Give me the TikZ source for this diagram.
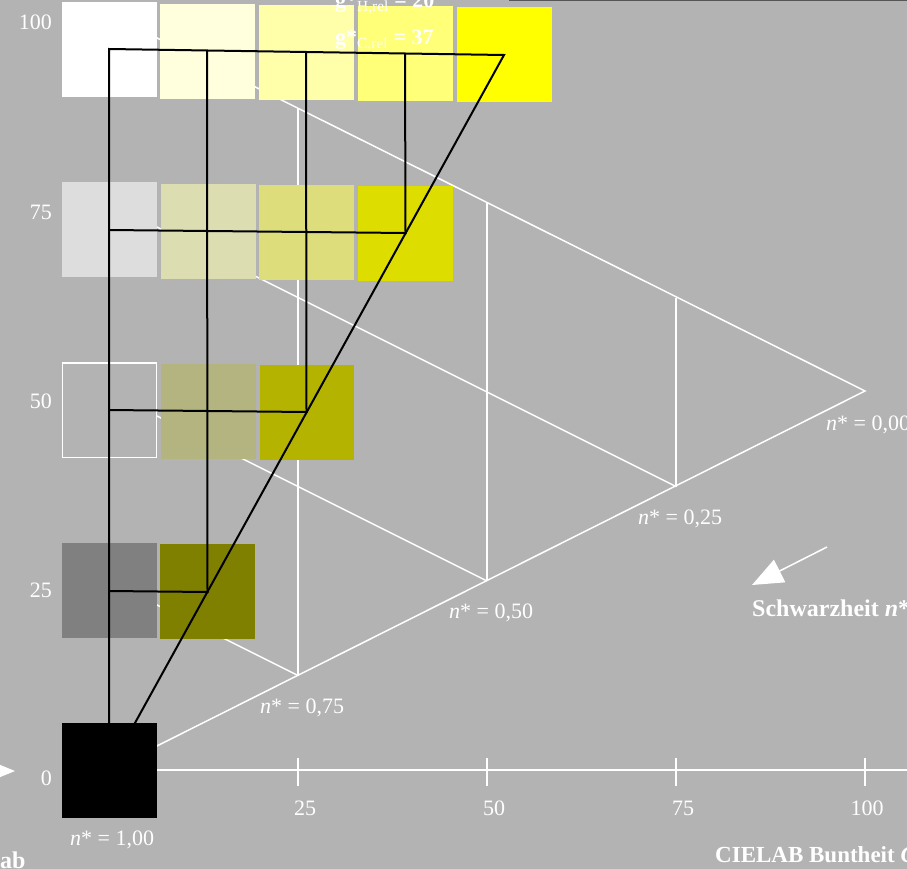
\documentclass[tikz,border=0pt]{standalone}
\usepackage{fontspec}
\setmainfont{Liberation Serif}
\usetikzlibrary{arrows.meta}
\definecolor{bg}{RGB}{179,179,179}
\definecolor{ya}{RGB}{255,255,221}
\definecolor{yb}{RGB}{255,255,170}
\definecolor{yc}{RGB}{255,255,120}
\definecolor{yd}{RGB}{255,255,0}
\definecolor{ga}{RGB}{221,221,221}
\definecolor{gb}{RGB}{221,221,178}
\definecolor{gc}{RGB}{221,221,124}
\definecolor{gd}{RGB}{221,221,0}
\definecolor{ma}{RGB}{180,180,128}
\definecolor{mb}{RGB}{180,180,0}
\definecolor{da}{RGB}{128,128,128}
\definecolor{db}{RGB}{128,128,0}
\definecolor{topline}{RGB}{85,85,85}
\begin{document}
\begin{tikzpicture}[x=1pt,y=-1pt,
  wl/.style={white,line width=1.5pt},
  bl/.style={black,line width=2pt,line join=miter},
  lab/.style={text=white,font=\fontsize{22}{26}\selectfont,inner sep=0pt},
  blab/.style={text=white,font=\fontsize{24}{28}\selectfont\bfseries,inner sep=0pt}]
\useasboundingbox (0,0) rectangle (907,869);
\clip (0,0) rectangle (907,869);
\fill[bg] (0,0) rectangle (907,869);
\draw[topline,line width=1.5pt] (509,0.5) -- (907,0.5);
% triangle grid
\coordinate (TW) at (109,14);
\coordinate (TK) at (109,770);
\coordinate (TA) at (865,391);
\draw[wl] (TW) -- (TA) -- (TK) -- cycle;
\draw[wl] (109,203) -- (676,486.5);
\draw[wl] (109,392) -- (487,581);
\draw[wl] (109,581) -- (298,675.5);
\draw[wl] (298,108.5) -- (298,675.5);
\draw[wl] (487,203) -- (487,581);
\draw[wl] (676,297.5) -- (676,486.5);
% axis
\draw[wl] (TK) -- (907,770);
\foreach \x in {298,487,676,865} \draw[wl] (\x,758) -- (\x,786);
% squares
\fill[white] (62,2) rectangle (157,97);
\fill[ya] (160,4) rectangle (254.5,99);
\fill[yb] (258.5,5) rectangle (353.5,100);
\fill[yc] (357.5,6) rectangle (452.5,101);
\fill[yd] (457,7) rectangle (552,102);
\fill[ga] (62,182) rectangle (157,277);
\fill[gb] (160.5,184) rectangle (256,279);
\fill[gc] (259,185) rectangle (354,280);
\fill[gd] (357.5,186) rectangle (453,281);
\filldraw[fill=bg,draw=white,line width=1.5pt] (62.5,363) rectangle (156.5,457.5);
\fill[ma] (161,364) rectangle (256,459);
\fill[mb] (259.5,365) rectangle (354,460);
\fill[da] (62,543) rectangle (157,638);
\fill[db] (160,544) rectangle (255,639);
\fill[black] (62,723) rectangle (157,818);
% black construction lines
\coordinate (W) at (109,49);
\coordinate (A1) at (207,51);
\coordinate (A2) at (306,52.5);
\coordinate (A3) at (405,54);
\coordinate (Y) at (504,55);
\coordinate (K) at (109,770);
\coordinate (D3) at (405.5,233);
\coordinate (D2) at (306.5,412);
\coordinate (D1) at (207.5,592);
\coordinate (L3) at (109,230);
\coordinate (L2) at (109,410);
\coordinate (L1) at (109,591);
\draw[bl] (K) -- (W) -- (Y) -- (K);
\draw[bl] (A1) -- (D1) -- (L1);
\draw[bl] (A2) -- (D2) -- (L2);
\draw[bl] (A3) -- (D3) -- (L3);
% axis labels
\node[lab,anchor=east] (l100) at (52,22) {100};
\node[lab,anchor=east] (l75) at (52,212) {75};
\node[lab,anchor=east] (l50) at (52,401) {50};
\node[lab,anchor=east] (l25) at (52,590) {25};
\node[lab,anchor=east] (l0) at (52,778) {0};
\node[lab] (c25) at (305,808) {25};
\node[lab] (c50) at (494,808) {50};
\node[lab] (c75) at (683,808) {75};
\node[lab] (c100) at (867,808) {100};
% n* labels
\node[lab,anchor=west] (n100) at (70,840) {\textit{n}* = 1,00};
\node[lab,anchor=west] (n75) at (260,708) {\textit{n}* = 0,75};
\node[lab,anchor=west] (n50) at (449,613) {\textit{n}* = 0,50};
\node[lab,anchor=west] (n25) at (638,519) {\textit{n}* = 0,25};
\node[lab,anchor=west] (n0) at (826,425) {\textit{n}* = 0,00};
% arrows
\coordinate (as) at (827,547);
\coordinate (ae) at (752,585);
\draw[white,line width=1.5pt,-{Triangle[length=31pt,width=25pt]}] (as) -- (ae);
\coordinate (bs) at (-70,771);
\coordinate (be) at (15,771);
\draw[white,line width=1.5pt,-{Triangle[length=31pt,width=25pt]}] (bs) -- (be);
% titles
\node[blab,anchor=base west] (sw) at (752,616) {Schwarzheit \textit{n}*};
\node[blab,font=\fontsize{23}{27}\selectfont\bfseries,anchor=base west] (cb) at (715,862) {CIELAB Buntheit \textit{C}*};
\node[blab,anchor=base west] (ab) at (0,868) {ab};
\node[lab,anchor=base west] (gh) at (335,8) {\textbf{g*}\textsubscript{H,rel}\textbf{ = 20}};
\node[lab,anchor=base west] (gc) at (335,45) {\textbf{g*}\textsubscript{C,rel}\textbf{ = 37}};
\end{tikzpicture}
\end{document}
